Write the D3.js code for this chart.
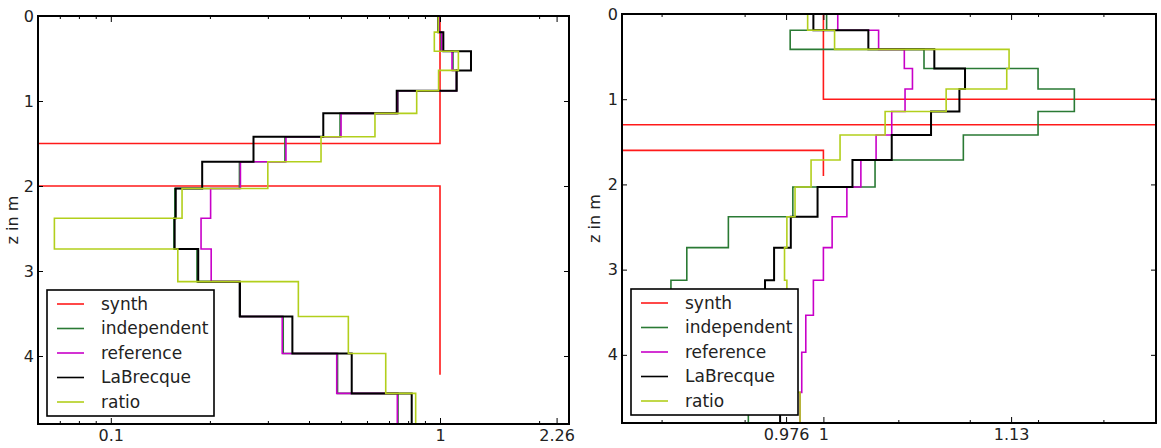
<!DOCTYPE html>
<html>
<head>
<meta charset="utf-8">
<script src="https://cdn.jsdelivr.net/npm/d3@7"></script>
<style>
  body { margin: 0; background: #fff; }
  svg { display: block; font-family: "DejaVu Sans", sans-serif; }
</style>
</head>
<body>
<svg id="chart" width="1161" height="448"></svg>
<script>
// layer boundaries (depth in m) of the inverted models
var layerBounds = [0, 0.19, 0.415, 0.64, 0.88, 1.145, 1.42, 1.714, 2.03, 2.38, 2.742, 3.125, 3.535, 3.97, 4.44, 4.95];

// synthetic models
var leftSynthBounds = [0, 1.5, 2.0, 4.22];
var leftSynth = [1, 0.01, 1];
var rightSynthBounds = [0, 1.0, 1.3, 1.6, 1.9];
var rightSynth = [1, 2, 0.5, 1];

// left panel, one value per layer
var leftIndependent = [0.989, 1.007, 1.095, 1.12, 0.7455, 0.497, 0.338, 0.2459, 0.1565, 0.1555, 0.1827, 0.2459, 0.334, 0.4884, 0.7455];
var leftReference   = [0.993, 1.012, 1.0876, 1.122, 0.7429, 0.5005, 0.3404, 0.2476, 0.201, 0.188, 0.2018, 0.2463, 0.3317, 0.4856, 0.7419];
var leftLaBrecque   = [0.988, 1.0235, 1.242, 1.124, 0.7388, 0.442, 0.2713, 0.1895, 0.1575, 0.1563, 0.1843, 0.2468, 0.3561, 0.5393, 0.8204];
var leftRatio       = [0.988, 0.961, 1.137, 0.99, 0.8495, 0.6345, 0.4351, 0.2999, 0.1646, 0.0674, 0.1598, 0.3713, 0.5267, 0.6841, 0.8435];

// right panel
var rightIndependent = [1.0021, 0.9786, 1.0677, 1.150, 1.1775, 1.150, 1.0954, 1.0342, 0.9803, 0.940, 0.9149, 0.9055, 0.92, 0.938, 0.9523];
var rightReference   = [1.0094, 1.0366, 1.0541, 1.0597, 1.0546, 1.0455, 1.0349, 1.0247, 1.0154, 1.0057, 1.0, 0.9935, 0.9886, 0.986, 0.9849];
var rightLaBrecque   = [0.9935, 1.0297, 1.0749, 1.0966, 1.0926, 1.0726, 1.0455, 1.0191, 0.9962, 0.979, 0.9684, 0.9627, 0.966, 0.969, 0.9722];
var rightRatio       = [0.9898, 1.0073, 1.1285, 1.1268, 1.0832, 1.041, 1.0109, 0.992, 0.9817, 0.9765, 0.975, 0.9765, 0.979, 0.982, 0.9849];

var seriesNames = ["synth", "independent", "reference", "LaBrecque", "ratio"];
var seriesColors = ["#ff1a1a", "#2a7a34", "#c800c8", "#000000", "#b2cf1c"];
var seriesWidths = [1.6, 1.6, 1.6, 2, 1.6];

var zTicks = [0, 1, 2, 3, 4];
var zDomain = [0, 4.8];
var leftXTicks = [0.1, 1, 2.26];
var rightXTicks = [0.976, 1, 1.13];

var svg = d3.select("#chart");

function steps(bounds, vals) {
  var pts = [];
  vals.forEach(function(v, i) {
    pts.push([v, bounds[i]], [v, bounds[i + 1]]);
  });
  return pts;
}

function drawPanel(cfg) {
  var x = d3.scaleLog().domain(cfg.xDomain).range([cfg.left, cfg.right]);
  var y = d3.scaleLinear().domain(zDomain).range([cfg.top, cfg.bottom]);

  svg.append("clipPath").attr("id", cfg.id)
    .append("rect")
    .attr("x", cfg.left).attr("y", cfg.top)
    .attr("width", cfg.right - cfg.left).attr("height", cfg.bottom - cfg.top);

  var line = d3.line().x(function(d) { return x(d[0]); }).y(function(d) { return y(d[1]); });

  var data = [steps(cfg.synthBounds, cfg.synth)];
  cfg.results.forEach(function(r) { data.push(steps(layerBounds, r)); });

  svg.append("g").attr("clip-path", "url(#" + cfg.id + ")")
    .selectAll("path").data(data).join("path")
    .attr("d", line)
    .attr("fill", "none")
    .attr("stroke", function(d, i) { return seriesColors[i]; })
    .attr("stroke-width", function(d, i) { return seriesWidths[i]; });

  // ticks, pointing inwards
  var minor = x.ticks().filter(function(t) { return cfg.xTicks.indexOf(t) < 0; });
  var axes = [
    d3.axisBottom(x).tickValues(minor).tickSize(-3).tickFormat(""),
    d3.axisTop(x).tickValues(minor).tickSize(-3).tickFormat("")
  ];
  axes.forEach(function(a, i) {
    svg.append("g").attr("transform", "translate(0," + (i === 0 ? cfg.bottom : cfg.top) + ")").call(a);
  });
  var xb = svg.append("g").attr("transform", "translate(0," + cfg.bottom + ")")
    .call(d3.axisBottom(x).tickValues(cfg.xTicks).tickSize(-6).tickPadding(6).tickFormat(function(d) { return String(d); }));
  svg.append("g").attr("transform", "translate(0," + cfg.top + ")")
    .call(d3.axisTop(x).tickValues(cfg.xTicks).tickSize(-6).tickFormat(""));
  var yl = svg.append("g").attr("transform", "translate(" + cfg.left + ",0)")
    .call(d3.axisLeft(y).tickValues(zTicks).tickSize(-5).tickPadding(4).tickFormat(d3.format("d")));
  svg.append("g").attr("transform", "translate(" + cfg.right + ",0)")
    .call(d3.axisRight(y).tickValues(zTicks).tickSize(-5).tickFormat(""));

  svg.selectAll(".domain").remove();
  svg.selectAll(".tick line").attr("stroke", "#000").attr("stroke-width", 1);
  [xb, yl].forEach(function(g) {
    g.attr("font-family", "DejaVu Sans, sans-serif").attr("font-size", 16);
    g.selectAll("text").attr("fill", "#222");
  });

  // frame
  svg.append("rect")
    .attr("x", cfg.left).attr("y", cfg.top)
    .attr("width", cfg.right - cfg.left).attr("height", cfg.bottom - cfg.top)
    .attr("fill", "none").attr("stroke", "#000").attr("stroke-width", 2);

  svg.append("text")
    .attr("transform", "translate(" + cfg.labelX + "," + ((cfg.top + cfg.bottom) / 2) + ") rotate(-90)")
    .attr("text-anchor", "middle")
    .attr("font-size", 16)
    .attr("fill", "#222")
    .text("z in m");

  // legend
  var lx = cfg.left + 9, ly = cfg.bottom - 134, lw = 167, lh = 126;
  var leg = svg.append("g");
  leg.append("rect")
    .attr("x", lx).attr("y", ly).attr("width", lw).attr("height", lh)
    .attr("fill", "#fff").attr("stroke", "#000").attr("stroke-width", 1.6);
  var items = leg.selectAll("g.item").data(seriesNames).join("g")
    .attr("transform", function(d, i) { return "translate(" + lx + "," + (ly + 14 + i * 24.5) + ")"; });
  items.append("line")
    .attr("x1", 10).attr("x2", 37)
    .attr("stroke", function(d, i) { return seriesColors[i]; })
    .attr("stroke-width", 1.6);
  items.append("text")
    .attr("x", 54).attr("dy", "0.35em")
    .attr("font-size", 17)
    .attr("fill", "#222")
    .text(function(d) { return d; });
}

drawPanel({
  id: "clipL", left: 38, right: 569, top: 16, bottom: 424, labelX: 18,
  xDomain: [0.0601, 2.465], xTicks: leftXTicks,
  synthBounds: leftSynthBounds, synth: leftSynth,
  results: [leftIndependent, leftReference, leftLaBrecque, leftRatio]
});

drawPanel({
  id: "clipR", left: 622, right: 1156, top: 14, bottom: 423, labelX: 600,
  xDomain: [0.8771, 1.2418], xTicks: rightXTicks,
  synthBounds: rightSynthBounds, synth: rightSynth,
  results: [rightIndependent, rightReference, rightLaBrecque, rightRatio]
});
</script>
</body>
</html>
